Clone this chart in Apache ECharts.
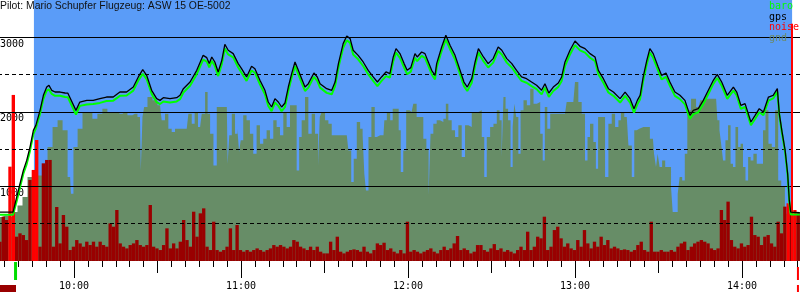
<!DOCTYPE html>
<html><head><meta charset="utf-8">
<script src="https://cdn.jsdelivr.net/npm/echarts@6/dist/echarts.min.js"></script>
<style>html,body{margin:0;padding:0;background:#fff}#c{width:800px;height:300px}</style>
</head><body><div id="c"></div>
<script>
// ---------- data (time = minutes after 09:00, altitude in m) ----------
const titleText = 'Pilot: Mario Schupfer Flugzeug: ASW 15 OE-5002';
const legendNames = ['baro', 'gps', 'noise', 'gnd'];
const yTickLabels = [1000, 2000, 3000];
const dashedLevels = [500, 1500, 2500];
const hourTicks = [60, 120, 180, 240, 300];
const flightStart = 45.6, flightEnd = 318.0;
const takeoffMark = 39.0, landingMark = 320.1;

const gps = [[33.4,656],[38.1,656],[39.4,857],[40.6,1036],[41.8,1215],[43.0,1349],[44.2,1528],[45.4,1752],[46.3,1819],[47.8,2020],[49.0,2222],[50.2,2333],[51.0,2356],[52.0,2289],[53.2,2266],[55.0,2266],[56.8,2253],[57.8,2250],[60.7,2020],[62.1,2132],[64.6,2154],[66.9,2154],[69.3,2177],[71.7,2199],[74.1,2199],[76.5,2266],[78.9,2266],[81.3,2333],[83.1,2468],[84.7,2566],[86.1,2490],[87.9,2289],[89.7,2177],
[90.9,2154],[92.1,2190],[94.5,2177],[96.9,2190],[98.1,2222],[99.3,2311],[101.7,2400],[104.1,2557],[106.4,2758],[107.7,2727],[108.6,2647],[109.5,2736],[110.6,2669],[111.8,2535],[113.1,2691],[114.2,2906],[115.4,2826],[117.2,2781],[119.0,2647],[120.2,2579],[122.0,2468],[123.8,2611],[125.0,2579],[126.8,2423],[128.6,2289],[129.8,2132],[131.0,2065],[132.2,2177],[133.4,2132],[134.6,2065],[135.8,2119],[137.0,2333],[138.2,2512],[139.4,2669],[140.6,2557],[141.8,2445],[143.0,2333],[144.2,2378],[146.2,2521],[147.4,2468],
[148.4,2378],[150.8,2311],[152.6,2289],[153.8,2400],[155.0,2647],[156.7,2915],[158.0,3018],[159.2,2982],[160.3,2826],[162.1,2758],[163.9,2669],[165.7,2557],[167.5,2468],[169.0,2400],[170.5,2468],[172.1,2535],[173.5,2512],[174.7,2736],[175.7,2848],[177.1,2781],[178.6,2647],[179.7,2557],[181.0,2593],[182.5,2781],[183.3,2736],[184.9,2803],[186.1,2781],[187.3,2669],[188.5,2557],[189.7,2490],[190.3,2647],[192.1,2870],[193.6,3027],[195.1,2893],[196.9,2758],[198.7,2557],[200.1,2400],[201.3,2333],[202.9,2445],[204.1,2669],[205.3,2848],[205.9,2870],
[207.1,2736],[208.8,2647],[210.6,2714],[212.4,2870],[213.7,2826],[215.5,2714],[217.3,2647],[219.0,2557],[220.8,2468],[222.6,2445],[224.4,2400],[226.2,2356],[228.0,2289],[229.2,2378],[230.6,2253],[232.2,2333],[234.0,2387],[235.2,2468],[236.4,2669],[238.2,2826],[240.0,2951],[241.8,2879],[243.6,2848],[245.4,2781],[247.2,2736],[248.4,2557],[250.2,2445],[252.0,2311],[253.8,2266],[256.2,2177],[258.0,2266],[259.8,2177],[261.2,2043],[262.4,2154],[263.4,2222],
[264.5,2468],[265.8,2691],[266.9,2848],[268.1,2781],[269.9,2602],[271.1,2490],[272.7,2521],[274.1,2400],[275.9,2266],[277.7,2222],[279.5,2154],[281.3,1953],[282.5,2020],[284.3,2043],[286.1,2154],[287.9,2289],[289.7,2423],[291.1,2503],[292.7,2400],[294.7,2222],[296.9,2333],[298.1,2266],[299.6,2087],[301.1,2110],[303.2,1864],[304.7,1953],[306.2,2043],[307.7,1998],[309.5,2199],[311.2,2222],[312.7,2311],[313.4,1976],[314.3,1752],[315.5,1483],[316.4,1170],[317.0,812],[317.5,656],[320.8,647]];

const baro = [[33.4,620],[38.1,620],[39.4,800],[40.6,990],[41.8,1170],[43.0,1300],[44.2,1480],[45.4,1700],[46.3,1780],[47.8,1975],[49.0,2175],[50.2,2285],[51.0,2300],[52.0,2240],[53.2,2215],[55.0,2215],[56.8,2200],[57.8,2195],[60.7,1965],[62.1,2080],[64.6,2100],[66.9,2105],[69.3,2120],[71.7,2145],[74.1,2150],[76.5,2215],[78.9,2220],[81.3,2285],[83.1,2420],[84.7,2510],[86.1,2440],[87.9,2240],[89.7,2130],
[90.9,2105],[92.1,2140],[94.5,2125],[96.9,2140],[98.1,2170],[99.3,2260],[101.7,2350],[104.1,2505],[106.4,2700],[107.7,2675],[108.6,2595],[109.5,2685],[110.6,2615],[111.8,2480],[113.1,2640],[114.2,2850],[115.4,2770],[117.2,2730],[119.0,2595],[120.2,2525],[122.0,2415],[123.8,2555],[125.0,2525],[126.8,2370],[128.6,2235],[129.8,2080],[131.0,2010],[132.2,2125],[133.4,2080],[134.6,2010],[135.8,2065],[137.0,2280],[138.2,2460],[139.4,2615],[140.6,2505],[141.8,2390],[143.0,2280],[144.2,2325],[146.2,2470],[147.4,2415],
[148.4,2325],[150.8,2255],[152.6,2235],[153.8,2345],[155.0,2595],[156.7,2860],[158.0,2960],[159.2,2925],[160.3,2770],[162.1,2705],[163.9,2615],[165.7,2505],[167.5,2415],[169.0,2345],[170.5,2415],[172.1,2480],[173.5,2460],[174.7,2680],[175.7,2795],[177.1,2725],[178.6,2595],[179.7,2505],[181.0,2540],[182.5,2725],[183.3,2680],[184.9,2750],[186.1,2725],[187.3,2615],[188.5,2505],[189.7,2435],[190.3,2595],[192.1,2815],[193.6,2970],[195.1,2840],[196.9,2705],[198.7,2505],[200.1,2345],[201.3,2280],[202.9,2390],[204.1,2615],[205.3,2795],[205.9,2815],
[207.1,2680],[208.8,2595],[210.6,2660],[212.4,2815],[213.7,2770],[215.5,2660],[217.3,2595],[219.0,2505],[220.8,2415],[222.6,2390],[224.4,2345],[226.2,2305],[228.0,2235],[229.2,2325],[230.6,2200],[232.2,2280],[234.0,2335],[235.2,2415],[236.4,2615],[238.2,2770],[240.0,2895],[241.8,2825],[243.6,2795],[245.4,2725],[247.2,2680],[248.4,2505],[250.2,2390],[252.0,2260],[253.8,2215],[256.2,2125],[258.0,2215],[259.8,2125],[261.2,1990],[262.4,2100],[263.4,2170],
[264.5,2415],[265.8,2640],[266.9,2795],[268.1,2725],[269.9,2550],[271.1,2435],[272.7,2470],[274.1,2350],[275.9,2215],[277.7,2170],[279.5,2100],[281.3,1905],[282.5,1970],[284.3,1995],[286.1,2105],[287.9,2240],[289.7,2375],[291.1,2455],[292.7,2350],[294.7,2175],[296.9,2285],[298.1,2220],[299.6,2040],[301.1,2065],[303.2,1820],[304.7,1905],[306.2,1995],[307.7,1955],[309.5,2150],[311.2,2180],[312.7,2270],[313.4,1960],[314.3,1730],[315.5,1460],[316.4,1150],[317.0,790],[317.5,625],[320.8,625]];

const gnd = [[33.4,589],[35.2,611],[37.0,589],[38.8,656],[40.6,745],[42.4,857],[44.2,1125],[46.0,1192],[47.8,1148],[49.6,1260],[51.4,1528],[53.2,1797],[55.0,1886],[56.8,1752],[58.6,1125],[59.2,902],[60.4,1528],[62.2,1774],[63.9,1998],[65.7,1998],[67.5,1908],[69.3,1976],[71.1,2043],[72.9,1998],[74.7,1998],[76.5,1976],[78.3,1998],[80.1,1953],[81.9,1976],[83.7,1931],[84.3,1215],[84.9,1931],[85.5,2065],[87.3,2199],[89.1,2154],
[90.9,2087],[92.1,1886],[93.3,1976],[94.5,1774],[95.7,1729],[96.9,1774],[98.7,1774],[100.5,1774],[101.7,1976],[102.9,1841],[103.8,1998],[105.3,1797],[106.5,1976],[107.7,2266],[108.3,1976],[109.5,1707],[110.7,1282],[111.9,2065],[113.7,2065],[114.9,2065],[115.5,1304],[116.1,1685],[117.3,1976],[118.4,1707],[119.0,1774],[119.6,1461],[120.2,1618],[121.4,1953],[122.6,1886],[123.8,1707],[125.0,1439],[126.2,1819],[127.4,1573],[128.6,1640],[129.8,1752],[131.0,1640],[132.2,1886],[133.4,1797],[134.6,1685],[135.8,1998],[137.0,1797],[138.2,2087],[139.4,2087],[140.6,1215],[141.2,1662],[142.4,1886],[143.6,2199],[144.8,1707],[146.0,1976],[147.2,1707],[148.2,1282],
[148.4,1931],[149.6,1998],[150.8,1886],[152.0,1841],[153.2,1685],[155.6,1685],[158.0,1685],[159.2,1483],[160.0,1058],[161.0,1372],[162.2,1864],[163.4,1774],[164.0,1685],[164.6,1170],[165.2,946],[166.4,1662],[167.3,2065],[168.8,1662],[170.0,1685],[171.2,1685],[171.8,1886],[173.0,1998],[174.2,1886],[174.8,2043],[176.2,2043],[177.1,1752],[177.7,1192],[178.9,1483],[179.8,2020],[181.3,1998],[182.5,2110],[183.7,1931],[184.9,1931],[186.1,1640],[187.1,1506],[187.7,881],[188.5,1707],[189.7,1841],[190.9,1886],[192.1,1864],[193.3,1908],[193.9,2110],[195.1,1886],[196.3,1752],[197.5,1662],[198.7,1819],[199.9,1394],[201.1,1819],[202.3,1797],[203.5,1998],[205.3,1998],
[205.9,2020],[207.1,1662],[207.7,1125],[208.9,1662],[210.1,1797],[211.3,1841],[212.5,2020],[213.3,1886],[214.0,1394],[214.6,2199],[215.5,2043],[216.4,1886],[217.3,1260],[217.9,1797],[218.5,2110],[219.3,1931],[220.0,1439],[220.9,2020],[222.1,2154],[223.3,2087],[224.5,2311],[225.7,2110],[226.9,2132],[228.1,1707],[228.7,1349],[229.6,2065],[230.5,1774],[231.7,1976],[233.5,1976],[235.2,1976],[236.4,1976],[237.6,2132],[239.4,2132],[240.6,2400],[241.8,2132],[243.0,1976],[244.2,1349],[244.8,1662],[246.0,1841],[247.2,1595],[247.8,1237],[248.8,1931],[250.2,1931],[251.4,1125],[252.6,1841],[253.8,1976],[255.0,1797],[256.2,1886],[256.8,1998],[258.6,1931],[259.8,1550],[261.0,1125],[261.6,1752],[262.8,1774],
[263.4,1797],[265.8,1797],[268.0,1640],[268.8,1439],[269.4,1260],[270.0,1439],[270.8,1260],[271.8,1349],[273.0,1260],[274.2,1260],[274.8,991],[275.4,656],[276.6,656],[277.2,902],[278.0,1125],[279.0,1081],[279.9,1439],[280.8,2020],[282.6,2177],[284.4,2065],[285.6,2154],[287.4,2177],[289.2,2177],[290.7,2177],[291.6,1886],[292.2,1752],[292.8,1573],[293.6,1349],[294.5,1618],[295.5,1819],[296.3,1304],[297.2,1260],[298.1,1797],[299.1,1528],[299.9,1573],[300.8,1260],[301.7,1081],[302.7,1394],[303.5,1349],[304.7,1439],[305.9,1304],[307.1,1304],[308.0,1752],[308.9,2020],[310.1,1573],[311.3,1528],[312.5,2020],[313.5,1081],[314.7,991],[316.1,634],[320.9,634]];

// noise: logger samples every 1.2 min starting 09:33.4
const noiseStart = 33.4, noiseStep = 1.2;
const noise = [259,594,550,1265,2227,326,371,348,281,1086,1221,1623,192,1310,1355,1355,192,724,236,617,460,147,192,281,236,192,259,214,259,192,259,214,192,505,460,684,236,192,169,214,236,281,214,192,214,751,192,169,
147,214,438,169,236,169,259,550,281,192,661,326,639,706,192,147,527,147,125,147,192,438,147,483,147,125,147,125,147,169,147,125,147,169,214,192,214,192,169,192,281,259,192,169,147,192,147,192,
125,102,102,259,147,326,125,102,125,147,156,147,125,192,125,102,147,236,214,245,147,169,125,102,147,102,527,125,147,125,102,125,147,169,125,102,147,192,147,169,236,335,147,169,147,102,125,214,
214,147,125,169,227,147,169,125,147,125,102,147,192,147,393,147,192,326,304,594,147,192,415,460,304,192,236,169,147,281,192,415,236,169,259,192,326,214,281,169,192,169,147,156,147,125,147,214,
259,147,125,527,125,125,147,125,125,147,125,192,236,259,147,192,236,259,281,259,236,169,147,169,684,550,796,281,192,169,236,192,214,594,348,326,214,326,348,236,192,527,371,729,774,639,684,640];
const noiseEngineIdx = [3,4,10,11,236,238];

// ---------- styling ----------
const C = {sky:'#5A9CF8', gnd:'#678D67', noise:'#990000', engine:'#FF0000', baro:'#00FF00', gps:'#000000', legGnd:'#6A8A6A'};
const mono = '"DejaVu Sans Mono", "Liberation Mono", monospace';

const chart = echarts.init(document.getElementById('c'), null, {renderer:'canvas'});
const xBase = {type:'value', min:0, max:330, position:'bottom', axisLine:{show:false}, splitLine:{show:false}};
const option = {
  animation:false,
  grid:{left:-93, right:-25.5, top:0, bottom:39, containLabel:false, outerBoundsMode:'none'},
  xAxis:[
    Object.assign({}, xBase, {interval:5, axisTick:{length:6, lineStyle:{color:'#000'}}, axisLabel:{show:false}}),
    Object.assign({}, xBase, {interval:30, axisTick:{length:12, lineStyle:{color:'#000'}}, axisLabel:{show:false}}),
    Object.assign({}, xBase, {interval:60, axisTick:{length:17, lineStyle:{color:'#000'}},
      axisLabel:{show:true, margin:20, color:'#000', fontFamily:mono, fontSize:10, showMinLabel:false, showMaxLabel:false,
        formatter: v => hourTicks.indexOf(v) >= 0 ? (9 + v/60) + ':00' : ''}})
  ],
  yAxis:{type:'value', min:0, max:3500, interval:1000, offset:-93,
    axisLine:{show:false}, axisTick:{show:false}, splitLine:{show:false},
    axisLabel:{inside:true, margin:0, align:'left', verticalAlign:'top', padding:[2,0,0,0], color:'#000', fontFamily:mono, fontSize:10,
      width:40, overflow:'none',
      formatter: v => yTickLabels.indexOf(v) >= 0 ? String(v) : ''}},
  series:[
    {name:'sky', type:'line', data:[], z:1, silent:true,
     markArea:{silent:true, itemStyle:{color:C.sky, opacity:1}, data:[[{xAxis:flightStart},{xAxis:flightEnd}]]}},
    {name:'gnd', type:'line', data:gnd, z:2, step:'middle', showSymbol:false, silent:true,
     lineStyle:{width:0}, areaStyle:{color:C.gnd, opacity:1}},
    {name:'noise', type:'bar', z:3, barWidth:3.34, silent:true,
     data: noise.map((v,i) => ({value:[noiseStart + i*noiseStep, v],
       itemStyle:{color: noiseEngineIdx.indexOf(i) >= 0 ? C.engine : C.noise}}))},
    {name:'levels', type:'line', data:[], z:4, silent:true,
     markLine:{silent:true, symbol:'none', label:{show:false},
       data: yTickLabels.map(v => ({yAxis:v, lineStyle:{color:'#000', width:1, type:'solid'}}))
         .concat(dashedLevels.map(v => ({yAxis:v, lineStyle:{color:'#000', width:1, type:[4,3]}})))}},
    {name:'baro', type:'line', data:baro, z:5, showSymbol:false, silent:true, lineStyle:{color:C.baro, width:2}},
    {name:'gps', type:'line', data:gps, z:6, showSymbol:false, silent:true, lineStyle:{color:C.gps, width:1.3},
     markLine:{silent:true, symbol:'none', label:{show:false}, lineStyle:{color:C.engine, width:2, type:'solid'},
       data:[[{coord:[flightEnd, 3180]},{coord:[flightEnd, 0]}]]}}
  ]
};
chart.setOption(option);

const px = t => chart.convertToPixel({xAxisIndex:0}, t);
const legendColors = [C.baro, C.gps, C.engine, C.legGnd];
const graphics = [
  {id:'title', type:'text', left:0, top:1.5, z:100, style:{text:titleText, fill:'#111', font:'10.4px "Liberation Sans", Arial, sans-serif'}},
  {id:'takeoff', type:'rect', z:100, shape:{x:px(takeoffMark)-1.5, y:262, width:3, height:18}, style:{fill:'#00DD00'}},
  {id:'landing', type:'rect', z:100, shape:{x:px(landingMark)-1, y:267, width:2, height:13}, style:{fill:C.engine}},
  {id:'scrollL', type:'rect', z:100, shape:{x:0, y:285, width:16, height:7}, style:{fill:C.noise}},
  {id:'scrollR', type:'rect', z:100, shape:{x:px(landingMark)-1, y:285, width:2, height:7}, style:{fill:C.engine}}
].concat(legendNames.map((n,i) => ({id:'leg'+i, type:'text', x:769, y:6.5 + i*10.5, z:100,
   style:{text:n, fill:legendColors[i], font:'10px ' + mono, textVerticalAlign:'middle'}})));
chart.setOption({graphic:graphics});
</script></body></html>
